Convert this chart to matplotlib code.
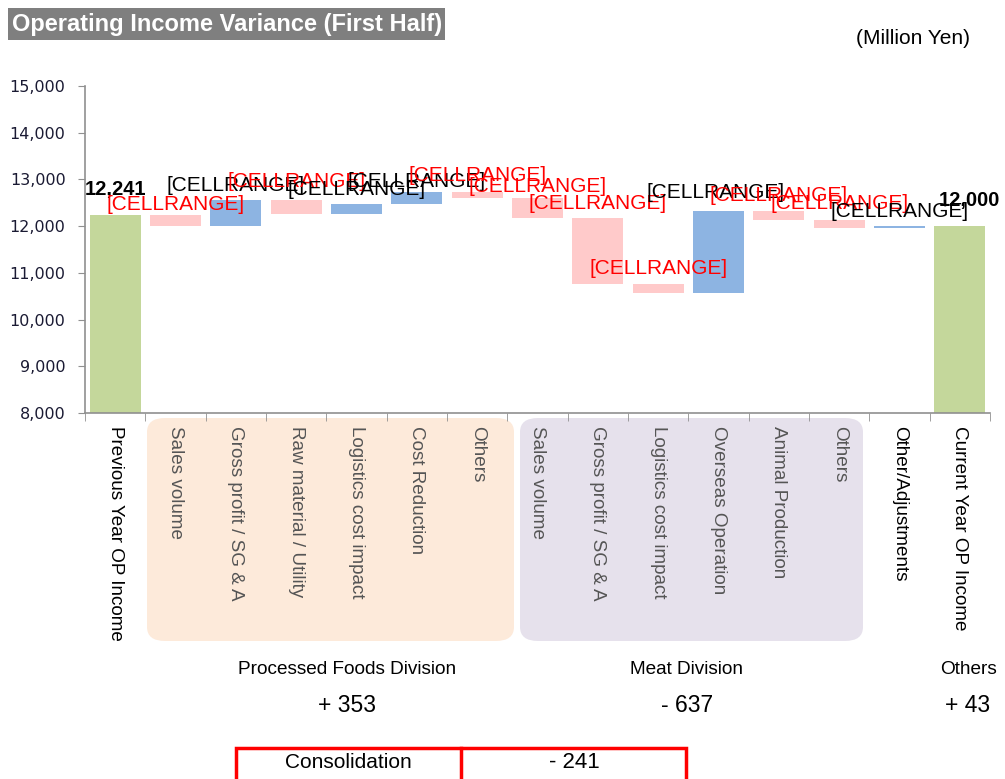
import matplotlib
matplotlib.use("Agg")
import matplotlib.pyplot as plt
from matplotlib.patches import FancyBboxPatch, Rectangle
from matplotlib.ticker import FuncFormatter
import numpy as np

plt.rcParams['font.family'] = ['Liberation Sans', 'DejaVu Sans']

# data
categories = ["Previous Year OP Income",
              "Sales volume", "Gross profit / SG & A", "Raw material / Utility",
              "Logistics cost impact", "Cost Reduction", "Others",
              "Sales volume", "Gross profit / SG & A", "Logistics cost impact",
              "Overseas Operation", "Animal Production", "Others",
              "Other/Adjustments", "Current Year OP Income"]
start_value = 12241
changes = [-235, 557, -310, 230, 250, -139,
           -420, -1420, -190, 1760, -200, -167,
           43]
end_value = 12000
bar_labels = ["12,241"] + ["[CELLRANGE]"] * 13 + ["12,000"]
divisions = ["Processed Foods Division", "Meat Division", "Others"]
division_totals = ["+ 353", "- 637", "+ 43"]
consolidation = "- 241"

W, H = 1005, 779
fig = plt.figure(figsize=(W / 100, H / 100), dpi=100)

def fx(px):
    return px / W

def fy(py):
    return 1 - py / H

# background group boxes (behind axes)
for x0, x1, col in [(147, 514, '#FDEADA'), (520, 863, '#E6E1EC')]:
    fig.patches.append(FancyBboxPatch((fx(x0), fy(641)), fx(x1 - x0), (641 -418) / H,
                                      boxstyle="round,pad=0,rounding_size=0.018",
                                      transform=fig.transFigure, facecolor=col,
                                      edgecolor='none', zorder=-5))

ax = fig.add_axes([fx(85), fy(413), fx(990 - 85), (413 - 86) / H])
ax.patch.set_alpha(0)

x = np.arange(len(categories))
bottoms, heights, colors, tops = [], [], [], []
bottoms.append(0); heights.append(start_value); colors.append('#C4D79B'); tops.append(start_value)
level = start_value
for c in changes:
    lo, hi = min(level, level + c), max(level, level + c)
    bottoms.append(lo); heights.append(hi - lo)
    colors.append('#8DB4E2' if c > 0 else '#FFCACA')
    tops.append(hi)
    level += c
bottoms.append(0); heights.append(end_value); colors.append('#C4D79B'); tops.append(end_value)

ax.bar(x, heights, bottom=bottoms, width=0.84, color=colors, zorder=2)

# data labels
offsets = [(0, 25), (0, 10), (0, 14), (0, 18), (0, 14), (0, 10), (0, 16), (0, 12),
           (0, 15), (0, 16), (-3, 19), (0, 16), (0, 17), (0, 15), (10, 26)]
for i, (lab, top) in enumerate(zip(bar_labels, tops)):
    if i in (0, len(tops) - 1):
        col, fw, fs = 'black', 'bold', 14.5
    else:
        col = 'black' if changes[i - 1] > 0 else '#FF0000'
        fw, fs = 'normal', 15
    ax.annotate(lab, (x[i], top), xytext=offsets[i], textcoords='offset pixels',
                ha='center', va='center', color=col, fontsize=fs, fontweight=fw, zorder=3)

ax.set_xlim(-0.5, len(categories) - 0.5)
ax.set_ylim(8000, 15000)
ax.set_yticks(np.arange(8000, 15001, 1000))
ax.yaxis.set_major_formatter(FuncFormatter(lambda v, p: f"{int(v):,}"))
for lab in ax.get_yticklabels():
    lab.set_fontfamily('DejaVu Sans')
    lab.set_fontsize(11.5)
    lab.set_color('#1a1a33')
ax.tick_params(axis='y', length=5, color='#909090', pad=9)

ax.set_xticks(x)
ax.set_xticklabels(categories, rotation=-90, fontsize=13.6, va='top', ha='center')
ax.tick_params(axis='x', which='major', length=0, pad=9)
ax.set_xticks(np.arange(-0.5, len(categories)), minor=True)
ax.tick_params(axis='x', which='minor', length=6, color='#909090')
for i, lab in enumerate(ax.get_xticklabels()):
    lab.set_color('black' if i in (0, 13, 14) else '#555555')

for s in ['top', 'right']:
    ax.spines[s].set_visible(False)
for s in ['left', 'bottom']:
    ax.spines[s].set_color('#909090')
    ax.spines[s].set_linewidth(1.2)

# title box
fig.patches.append(Rectangle((fx(8), fy(40)), fx(437), 32 / H, transform=fig.transFigure,
                             facecolor='#7F7F7F', edgecolor='none'))
fig.text(fx(12), fy(24), "Operating Income Variance (First Half)", color='white',
         fontsize=17, fontweight='bold', va='center', ha='left')
fig.text(fx(913), fy(38), "(Million Yen)", fontsize=15, va='center', ha='center')

# division summaries
for cx, name, tot in zip([347, 687, 968], divisions, division_totals):
    fig.text(fx(cx), fy(670), name, fontsize=13.7, ha='center', va='center')
    fig.text(fx(cx), fy(705), tot, fontsize=16.5, ha='center', va='center')

# consolidation box
fig.patches.append(Rectangle((fx(236), fy(790)), fx(450), 42 / H, transform=fig.transFigure,
                             facecolor='white', edgecolor='#FF0000', linewidth=2.5))
fig.lines.append(plt.Line2D([fx(461), fx(461)], [fy(748), fy(790)], transform=fig.transFigure,
                            color='#FF0000', linewidth=2.5))
fig.text(fx(348), fy(763), "Consolidation", fontsize=15, ha='center', va='center')
fig.text(fx(574), fy(763), consolidation, fontsize=16, ha='center', va='center')

fig.savefig("out.png", dpi=100)
